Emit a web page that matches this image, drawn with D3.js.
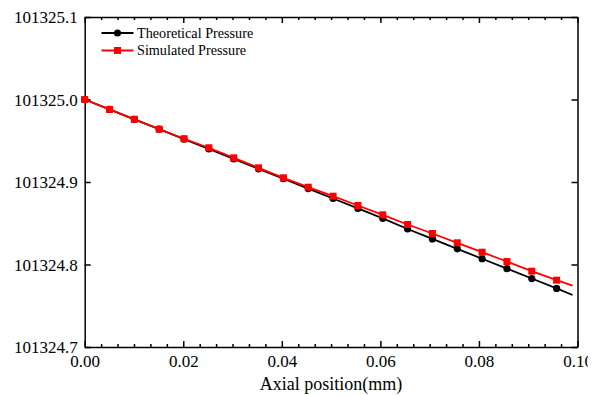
<!DOCTYPE html>
<html>
<head>
<meta charset="utf-8">
<script src="https://cdn.jsdelivr.net/npm/d3@7"></script>
<style>
  body { margin: 0; background: #fff; }
  svg { display: block; font-family: "Liberation Serif", "Times New Roman", serif; }
  .axis path, .axis line { stroke: #000; stroke-width: 1.5; }
  .axis text { fill: #000; font-family: "Liberation Serif", "Times New Roman", serif; }
</style>
</head>
<body>
<svg id="chart" width="588" height="395"></svg>
<script>
// Axial position (mm); the last entry is where the lines end (no marker)
const axialPos = [0, 0.00504, 0.01008, 0.01512, 0.02016, 0.0252, 0.03024, 0.03528,
  0.04032, 0.04536, 0.0504, 0.05544, 0.06048, 0.06552, 0.07056, 0.0756,
  0.08064, 0.08568, 0.09072, 0.09576, 0.0990];

const theoretical = [101325.000, 101324.988, 101324.976, 101324.964, 101324.952,
  101324.940, 101324.928, 101324.916, 101324.904, 101324.892, 101324.880,
  101324.868, 101324.856, 101324.843, 101324.831, 101324.819, 101324.807,
  101324.795, 101324.783, 101324.771, 101324.763];

const simulated = [101325.000, 101324.988, 101324.976, 101324.964, 101324.9524,
  101324.9415, 101324.9293, 101324.9172, 101324.9051, 101324.8937, 101324.8828,
  101324.8715, 101324.8602, 101324.8485, 101324.8376, 101324.8263, 101324.8149,
  101324.8036, 101324.7919, 101324.7810, 101324.7745];

const markerCount = 20;

const xTicks = [0, 0.02, 0.04, 0.06, 0.08, 0.10];
const yTicks = [101324.7, 101324.8, 101324.9, 101325.0, 101325.1];

const seriesNames = ["Theoretical Pressure", "Simulated Pressure"];
const seriesColors = ["#000000", "#ff0000"];

const margin = { left: 84.7, right: 577.5, top: 17, bottom: 347 };

const svg = d3.select("#chart");

const x = d3.scaleLinear().domain([0, 0.1]).range([margin.left, margin.right]);
const y = d3.scaleLinear().domain([101324.7, 101325.1]).range([margin.bottom, margin.top]);

// minor ticks: 5 between each pair of majors
const xMinor = d3.range(0, 31).map(i => i * 0.1 / 30).filter((d, i) => i % 6 !== 0);

// bottom axis
svg.append("g")
  .attr("class", "axis")
  .attr("transform", `translate(0,${margin.bottom})`)
  .call(d3.axisBottom(x).tickValues(xTicks).tickSize(-6).tickSizeOuter(0).tickFormat(d3.format(".2f")))
  .call(g => g.attr("font-family", null).attr("font-size", null))
  .call(g => g.selectAll("text").attr("font-size", 17).attr("dy", 0).attr("y", 19.5));

svg.append("g")
  .attr("class", "axis")
  .attr("transform", `translate(0,${margin.bottom})`)
  .call(d3.axisBottom(x).tickValues(xMinor).tickSize(-3).tickSizeOuter(0).tickFormat(""))
  .call(g => g.select(".domain").remove());

// top axis (mirror, no labels)
svg.append("g")
  .attr("class", "axis")
  .attr("transform", `translate(0,${margin.top})`)
  .call(d3.axisTop(x).tickValues(xTicks).tickSize(-6).tickSizeOuter(0).tickFormat(""));

svg.append("g")
  .attr("class", "axis")
  .attr("transform", `translate(0,${margin.top})`)
  .call(d3.axisTop(x).tickValues(xMinor).tickSize(-3).tickSizeOuter(0).tickFormat(""))
  .call(g => g.select(".domain").remove());

// left axis
svg.append("g")
  .attr("class", "axis")
  .attr("transform", `translate(${margin.left},0)`)
  .call(d3.axisLeft(y).tickValues(yTicks).tickSize(-6).tickSizeOuter(0).tickFormat(d3.format(".1f")))
  .call(g => g.attr("font-family", null).attr("font-size", null))
  .call(g => g.selectAll("text").attr("font-size", 17).attr("x", -7).attr("dy", "0.33em"));

// right axis (mirror, no labels)
svg.append("g")
  .attr("class", "axis")
  .attr("transform", `translate(${margin.right},0)`)
  .call(d3.axisRight(y).tickValues(yTicks).tickSize(-6).tickSizeOuter(0).tickFormat(""));

// axis title
svg.append("text")
  .attr("x", (margin.left + margin.right) / 2)
  .attr("y", 390)
  .attr("text-anchor", "middle")
  .attr("font-size", 18)
  .text("Axial position(mm)");

const line = d3.line()
  .x(d => x(d[0]))
  .y(d => y(d[1]));

const series = [theoretical, simulated];

series.forEach((vals, k) => {
  const pts = axialPos.map((p, i) => [p, vals[i]]);
  const g = svg.append("g");

  g.append("path")
    .datum(pts)
    .attr("fill", "none")
    .attr("stroke", seriesColors[k])
    .attr("stroke-width", 1.8)
    .attr("d", line);

  const marks = pts.slice(0, markerCount);
  if (k === 0) {
    g.selectAll("circle")
      .data(marks)
      .join("circle")
      .attr("cx", d => x(d[0]))
      .attr("cy", d => y(d[1]))
      .attr("r", 3.6)
      .attr("fill", seriesColors[k]);
  } else {
    g.selectAll("rect")
      .data(marks)
      .join("rect")
      .attr("x", d => x(d[0]) - 3.5)
      .attr("y", d => y(d[1]) - 3.5)
      .attr("width", 7)
      .attr("height", 7)
      .attr("fill", seriesColors[k]);
  }
});

// legend
const legend = svg.append("g");
seriesNames.forEach((name, k) => {
  const ly = 33 + k * 17.5;
  legend.append("line")
    .attr("x1", 101.5).attr("x2", 133.5)
    .attr("y1", ly).attr("y2", ly)
    .attr("stroke", seriesColors[k])
    .attr("stroke-width", 1.8);
  if (k === 0) {
    legend.append("circle").attr("cx", 117.5).attr("cy", ly).attr("r", 3.6).attr("fill", seriesColors[k]);
  } else {
    legend.append("rect").attr("x", 114).attr("y", ly - 3.5).attr("width", 7).attr("height", 7).attr("fill", seriesColors[k]);
  }
  legend.append("text")
    .attr("x", 137)
    .attr("y", ly)
    .attr("dy", "0.33em")
    .attr("font-size", 14.2)
    .text(name);
});
</script>
</body>
</html>
